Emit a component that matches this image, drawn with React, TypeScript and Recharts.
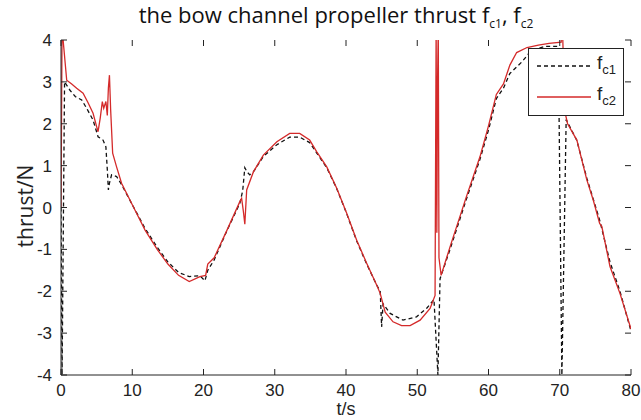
import { LineChart, Line, XAxis, YAxis } from "recharts";

// f_c1 (dashed black)
const t1 = [0, 0.15, 0.5, 1.26, 2.0, 2.9, 3.6, 4.5, 5.2, 5.9, 6.3, 6.5, 6.65, 6.8, 7.1, 7.8, 8.5, 9.9, 11.8, 13.5, 15, 16.5, 18, 19.5, 20.2, 20.6, 21.5, 23.3, 25.1, 25.5, 25.8, 26.1, 26.5, 27, 28.4, 30.3, 32.1, 33.5, 34.9, 35.9, 37.3, 38.7, 40.1, 41.5, 42.9, 44.3, 44.8, 45.0, 45.2, 46.2, 48.0, 49.9, 51.3, 52.35, 52.9, 53.2, 54.6, 56.9, 58.8, 60.0, 61.1, 62.1, 63.0, 64.7, 66, 68, 69.8, 70.3, 70.9, 72.4, 73.8, 74.7, 75.6, 77.05, 78.45, 80];
const v1 = [0, -4, 3.0, 2.8, 2.65, 2.57, 2.37, 2.09, 1.69, 1.61, 1.45, 0.9, 0.42, 0.58, 0.78, 0.74, 0.55, 0.1, -0.5, -0.95, -1.3, -1.55, -1.65, -1.63, -1.75, -1.5, -1.25, -0.55, 0.1, 0.4, 0.95, 0.85, 0.78, 0.85, 1.22, 1.5, 1.68, 1.68, 1.55, 1.3, 0.95, 0.45, -0.15, -0.8, -1.35, -1.85, -2.0, -2.85, -2.3, -2.53, -2.69, -2.61, -2.41, -2.2, -4, -1.7, -1.0, 0.2, 1.15, 1.85, 2.6, 2.85, 3.2, 3.48, 3.75, 3.85, 3.85, -4, 2.1, 1.6, 0.7, 0.2, -0.3, -1.3, -2.0, -2.95];

// f_c2 (red)
const t2 = [0, 0.15, 0.35, 0.8, 1.5, 2.2, 3.1, 3.8, 4.5, 5.0, 5.2, 5.5, 5.8, 6.0, 6.3, 6.5, 6.65, 6.8, 6.97, 7.25, 7.8, 8.5, 9.9, 11.8, 13.5, 15, 16.5, 18, 19.5, 20.3, 20.6, 21.5, 23.3, 25.1, 25.35, 25.6, 25.8, 26.06, 27, 28.4, 30.3, 32.1, 33.5, 34.9, 35.9, 37.3, 38.7, 40.1, 41.5, 42.9, 44.3, 44.8, 45.5, 46.6, 47.8, 49.0, 50.4, 51.8, 52.5, 52.65, 52.75, 52.85, 52.95, 53.05, 53.35, 54.6, 56.9, 58.8, 60.0, 61.1, 62.1, 63.0, 63.95, 65.4, 67, 68.5, 70.2, 70.35, 70.7, 71.1, 72.4, 73.8, 74.7, 75.6, 75.9, 77.05, 78.45, 80];
const v2 = [0, 4.3, 3.9, 3.04, 2.95, 2.85, 2.73, 2.5, 2.25, 1.93, 1.81, 2.13, 2.53, 2.37, 2.53, 2.2, 2.85, 3.16, 2.33, 1.3, 0.97, 0.58, 0.1, -0.54, -1.0, -1.35, -1.62, -1.77, -1.65, -1.62, -1.35, -1.2, -0.54, 0.14, 0.22, -0.1, -0.4, 0.42, 0.85, 1.25, 1.57, 1.77, 1.77, 1.61, 1.33, 0.97, 0.46, -0.14, -0.78, -1.33, -1.85, -2.05, -2.5, -2.73, -2.82, -2.82, -2.69, -2.41, -2.1, 4.3, -0.6, 3.0, 4.3, -1.2, -1.62, -0.94, 0.26, 1.21, 1.95, 2.7, 2.95, 3.4, 3.7, 3.82, 3.88, 3.92, 3.95, 4.5, 2.3, 2.0, 1.61, 0.66, 0.18, -0.38, -0.45, -1.41, -2.05, -2.9];

const xTicks = [0, 10, 20, 30, 40, 50, 60, 70, 80];
const yTicks = [-4, -3, -2, -1, 0, 1, 2, 3, 4];

const fc1 = t1.map((t, i) => ({ t, v: v1[i] }));
const fc2 = t2.map((t, i) => ({ t, v: v2[i] }));

const W = 641;
const H = 420;
const margin = { top: 40, right: 10, bottom: 0, left: 0 };
const yAxisW = 61;
const xAxisH = 45;
const plot = {
  left: margin.left + yAxisW,
  right: W - margin.right,
  top: margin.top,
  bottom: H - margin.bottom - xAxisH,
};

const axisStroke = "#222";
const labelFont = "Liberation Sans, Arial, sans-serif";
const TICK = 6;

const BottomLabel = (p: any) => (
  <text x={p.x} y={p.y + 21} textAnchor="middle" fontSize={17} fill="#222" fontFamily={labelFont}>
    {p.payload.value}
  </text>
);
const LeftLabel = (p: any) => (
  <text x={p.x - 9} y={p.y} dy="0.36em" textAnchor="end" fontSize={17} fill="#222" fontFamily={labelFont}>
    {p.payload.value}
  </text>
);

// inward MATLAB-style tick marks on all four sides of the box
function TickMarks() {
  const sx = (t: number) => plot.left + ((t - 0) / 80) * (plot.right - plot.left);
  const sy = (v: number) => plot.bottom - ((v + 4) / 8) * (plot.bottom - plot.top);
  return (
    <svg width={W} height={H} style={{ position: "absolute", left: 0, top: 0, pointerEvents: "none" }}>
      {xTicks.map((t) => (
        <g key={"x" + t}>
          <line x1={sx(t)} x2={sx(t)} y1={plot.bottom} y2={plot.bottom - TICK} stroke={axisStroke} />
          <line x1={sx(t)} x2={sx(t)} y1={plot.top} y2={plot.top + TICK} stroke={axisStroke} />
        </g>
      ))}
      {yTicks.map((v) => (
        <g key={"y" + v}>
          <line x1={plot.left} x2={plot.left + TICK} y1={sy(v)} y2={sy(v)} stroke={axisStroke} />
          <line x1={plot.right} x2={plot.right - TICK} y1={sy(v)} y2={sy(v)} stroke={axisStroke} />
        </g>
      ))}
    </svg>
  );
}

export default function App() {
  return (
    <div style={{ position: "absolute", left: 0, top: 0, width: W, height: H, background: "#fff" }}>
      <div
        style={{
          position: "absolute",
          left: 0,
          width: W,
          top: 3,
          lineHeight: "22px",
          textAlign: "center",
          fontFamily: "Open Sans, sans-serif",
          fontSize: 22,
          color: "#111",
          paddingLeft: 31,
          boxSizing: "border-box",
          whiteSpace: "nowrap",
        }}
      >
        the bow channel propeller thrust f<sub style={{ fontSize: 12, lineHeight: 0 }}>c1</sub>, f
        <sub style={{ fontSize: 12, lineHeight: 0 }}>c2</sub>
      </div>
      <LineChart width={W} height={H} margin={margin}>
        <XAxis
          dataKey="t"
          type="number"
          domain={[0, 80]}
          ticks={xTicks}
          height={xAxisH}
          tickSize={0}
          tickMargin={0}
          tickLine={false}
          tick={BottomLabel}
          stroke={axisStroke}
          allowDataOverflow
        />
        <XAxis
          xAxisId="top"
          orientation="top"
          dataKey="t"
          type="number"
          domain={[0, 80]}
          ticks={xTicks}
          height={0}
          tickLine={false}
          tick={false}
          stroke={axisStroke}
        />
        <YAxis
          type="number"
          domain={[-4, 4]}
          ticks={yTicks}
          width={yAxisW}
          tickSize={0}
          tickMargin={0}
          tickLine={false}
          tick={LeftLabel}
          stroke={axisStroke}
          allowDataOverflow
        />
        <YAxis
          yAxisId="right"
          orientation="right"
          type="number"
          domain={[-4, 4]}
          ticks={yTicks}
          width={0}
          tickLine={false}
          tick={false}
          stroke={axisStroke}
        />
        <Line
          data={fc1}
          dataKey="v"
          type="linear"
          stroke="#111"
          strokeWidth={1.3}
          strokeDasharray="4 3"
          dot={false}
          isAnimationActive={false}
        />
        <Line
          data={fc2}
          dataKey="v"
          type="linear"
          stroke="#d42a2a"
          strokeWidth={1.3}
          dot={false}
          isAnimationActive={false}
        />
      </LineChart>
      <TickMarks />
      <div
        style={{
          position: "absolute",
          left: 0,
          top: 160,
          width: 50,
          height: 92,
          display: "flex",
          alignItems: "center",
          justifyContent: "center",
        }}
      >
        <div
          style={{
            transform: "rotate(-90deg)",
            whiteSpace: "nowrap",
            fontFamily: "Open Sans, sans-serif",
            fontSize: 21,
            color: "#222",
          }}
        >
          thrust/N
        </div>
      </div>
      <div
        style={{
          position: "absolute",
          left: 296,
          width: 100,
          top: 401,
          lineHeight: "17px",
          textAlign: "center",
          fontFamily: labelFont,
          fontSize: 18,
          color: "#222",
        }}
      >
        t/s
      </div>
      <div
        style={{
          position: "absolute",
          left: 528,
          top: 48,
          width: 96,
          height: 68,
          boxSizing: "border-box",
          border: "1px solid #222",
          background: "#fff",
          fontFamily: labelFont,
          color: "#222",
        }}
      >
        <svg width={94} height={66} style={{ position: "absolute", left: 0, top: 0 }}>
          <line x1={8} x2={62} y1={17} y2={17} stroke="#111" strokeWidth={1.3} strokeDasharray="4 3" />
          <line x1={8} x2={62} y1={48} y2={48} stroke="#d42a2a" strokeWidth={1.3} />
        </svg>
        <div style={{ position: "absolute", left: 68, top: 3, fontSize: 19 }}>
          f<sub style={{ fontSize: 13 }}>c1</sub>
        </div>
        <div style={{ position: "absolute", left: 68, top: 34, fontSize: 19 }}>
          f<sub style={{ fontSize: 13 }}>c2</sub>
        </div>
      </div>
    </div>
  );
}
